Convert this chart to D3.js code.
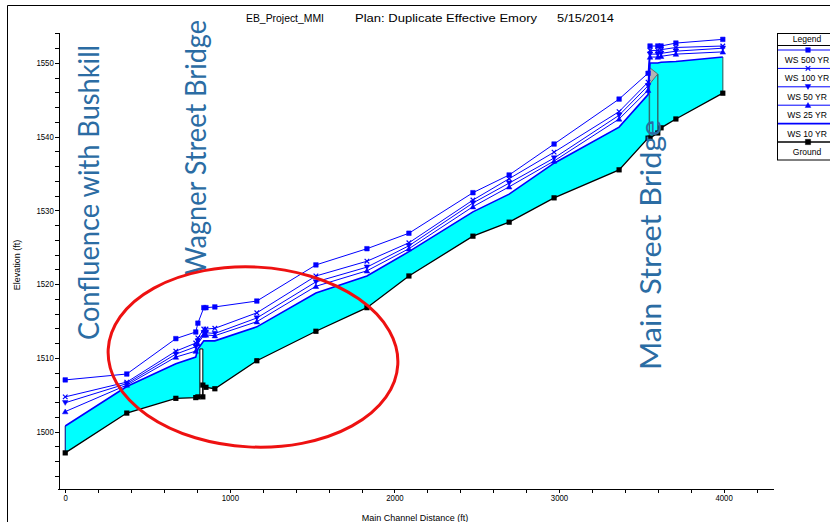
<!DOCTYPE html>
<html>
<head>
<meta charset="utf-8">
<script src="https://cdn.jsdelivr.net/npm/d3@7"></script>
<style>
  body { margin: 0; background: #fff; }
  svg { display: block; }
  .axis text { font-family: 'Liberation Sans', Arial, sans-serif; font-size: 9px; fill: #000; }
  .axis path, .axis line { stroke: #000; stroke-width: 1; shape-rendering: crispEdges; }
  .lbl { font-family: 'Liberation Sans', Arial, sans-serif; font-size: 9px; fill: #000; }
  .lg { font-family: 'Liberation Sans', Arial, sans-serif; font-size: 9.5px; fill: #000; }
  .title { font-family: 'Liberation Sans', Arial, sans-serif; font-size: 11px; fill: #000; }
  .note { font-family: Lato, 'Open Sans', sans-serif; font-size: 29px; fill: #2b6ca3; }
</style>
</head>
<body>
<div id="chart"></div>
<script>
// cross sections (main channel distance, ft)
var stations = [0, 374, 672, 793, 806, 842, 855, 909, 1164, 1523, 1833, 2088, 2477, 2697, 2970, 3365, 3541, 3553, 3600, 3620, 3710, 3995];

// water surface elevations (ft)
var ws500 = [1507.0, 1507.8, 1512.6, 1513.5, 1514.7, 1516.8, 1516.8, 1516.9, 1517.7, 1522.6, 1524.8, 1526.9, 1532.4, 1534.8, 1539.0, 1545.1, 1548.6, 1552.3, 1552.3, 1552.3, 1552.7, 1553.2];
var ws100 = [1504.7, 1506.7, 1510.9, 1512.0, 1512.7, 1513.9, 1513.9, 1514.0, 1516.1, 1521.1, 1523.1, 1525.6, 1531.4, 1534.3, 1537.9, 1543.4, 1547.4, 1551.7, 1551.7, 1551.8, 1552.1, 1552.3];
var ws50 = [1503.9, 1506.5, 1510.5, 1511.5, 1512.3, 1513.4, 1513.4, 1513.3, 1515.4, 1520.3, 1522.3, 1525.2, 1531.0, 1533.7, 1537.1, 1542.9, 1546.9, 1551.2, 1551.2, 1551.3, 1551.6, 1552.0];
var ws25 = [1502.7, 1506.3, 1510.1, 1510.9, 1511.9, 1513.1, 1513.1, 1513.0, 1514.9, 1519.7, 1521.8, 1524.8, 1530.5, 1533.2, 1536.7, 1542.4, 1546.3, 1550.8, 1550.8, 1550.9, 1551.2, 1551.5];
var ws10 = [1500.75, 1506.1, 1509.2, 1510.1, 1511.2, 1512.3, 1512.3, 1512.3, 1514.2, 1518.8, 1521.1, 1524.4, 1529.8, 1532.2, 1536.4, 1541.3, 1545.7, 1550.0, 1550.0, 1550.1, 1550.2, 1550.8];

// ground profile
var groundSta = [0, 374, 672, 793, 806, 836, 836, 855, 909, 1164, 1523, 1833, 2088, 2477, 2697, 2970, 3365, 3541, 3553, 3600, 3620, 3710, 3995];
var groundElev = [1497.1, 1502.5, 1504.5, 1504.6, 1504.7, 1504.7, 1506.3, 1506.0, 1505.8, 1509.6, 1513.6, 1516.8, 1521.1, 1526.5, 1528.4, 1531.7, 1535.5, 1539.8, 1539.8, 1540.5, 1541.2, 1542.4, 1545.9];

// bridges
var wagnerSta = [818, 836];
var wagnerDeck = 1511.2;
var mainSta = [3549, 3600];
var mainDeck = [1549.4, 1548.5, 1547.1]; // top, low chord up, low chord down

var xTicks = d3.range(0, 4300, 200);
var yTicks = d3.range(1494, 1555, 2);

var legendNames = ["WS 500 YR", "WS 100 YR", "WS 50 YR", "WS 25 YR", "WS 10 YR", "Ground"];

var W = 830, H = 522;
var svg = d3.select("#chart").append("svg").attr("width", W).attr("height", H);

var x = d3.scaleLinear().domain([-50, 4300]).range([57, 773]);
var y = d3.scaleLinear().domain([1492.2, 1554.2]).range([489, 32]);

// frame
svg.append("path").attr("d", "M7.5,522V5.5H830").attr("fill", "none").attr("stroke", "#000").attr("stroke-width", 1);

// title
function title(txt, tx, len) {
  svg.append("text").attr("class", "title").attr("x", tx).attr("y", 22)
    .attr("textLength", len).attr("lengthAdjust", "spacingAndGlyphs").text(txt);
}
title("EB_Project_MMI", 246, 78);
title("Plan: Duplicate Effective Emory", 355, 182);
title("5/15/2014", 557, 57);

// axes
var xAxis = svg.append("g").attr("class", "axis")
  .attr("transform", "translate(0,489)")
  .call(d3.axisBottom(x).tickValues(xTicks).tickSize(4).tickPadding(2).tickSizeOuter(0)
    .tickFormat(function (d) { return d % 1000 === 0 ? d : ""; }));
xAxis.selectAll("text").attr("transform", "scale(0.87,1)");

var yAxis = svg.append("g").attr("class", "axis")
  .attr("transform", "translate(59,0)")
  .call(d3.axisLeft(y).tickValues(yTicks).tickSize(4).tickPadding(2).tickSizeOuter(0)
    .tickFormat(function (d) { return d % 10 === 0 ? d : ""; }));
yAxis.selectAll("text").attr("transform", "scale(0.87,1)");

svg.append("text").attr("class", "lbl").attr("x", 415).attr("y", 521).attr("text-anchor", "middle").text("Main Channel Distance (ft)");
svg.append("text").attr("class", "lbl").attr("text-anchor", "middle")
  .attr("transform", "translate(20,265) rotate(-90)").text("Elevation (ft)");

// water fill between WS 10 YR and ground
var fillPts = stations.map(function (s, i) { return [x(s), y(ws10[i])]; });
for (var i = groundSta.length - 1; i >= 0; i--) fillPts.push([x(groundSta[i]), y(groundElev[i])]);
svg.append("path").attr("d", "M" + fillPts.join("L") + "Z").attr("fill", "#00ffff");

// end lines of the water
svg.append("line").attr("x1", x(0)).attr("x2", x(0)).attr("y1", y(ws10[0])).attr("y2", y(groundElev[0]))
  .attr("stroke", "#000080").attr("stroke-width", 1);
var last = stations.length - 1;
svg.append("line").attr("x1", x(stations[last])).attr("x2", x(stations[last]))
  .attr("y1", y(ws10[last])).attr("y2", y(groundElev[groundElev.length - 1]))
  .attr("stroke", "#2f6f6f").attr("stroke-width", 1.2);

// Wagner Street bridge deck
svg.append("path")
  .attr("d", "M" + [[x(wagnerSta[0]), y(wagnerDeck)], [x(wagnerSta[1]), y(wagnerDeck)],
    [x(wagnerSta[1]), y(1504.7)], [x(wagnerSta[0]), y(1504.7)]].join("L") + "Z")
  .attr("fill", "#fff").attr("stroke", "#000").attr("stroke-width", 1);

// Main Street bridge
svg.append("line").attr("x1", x(mainSta[0])).attr("x2", x(mainSta[0]))
  .attr("y1", y(mainDeck[0])).attr("y2", y(1539.8)).attr("stroke", "#2f6f6f").attr("stroke-width", 1.5);
svg.append("line").attr("x1", x(mainSta[1])).attr("x2", x(mainSta[1]))
  .attr("y1", y(mainDeck[1])).attr("y2", y(1540.5)).attr("stroke", "#2f6f6f").attr("stroke-width", 1.5);
svg.append("path")
  .attr("d", "M" + [[x(mainSta[0]), y(mainDeck[0])], [x(mainSta[1]), y(mainDeck[1])], [x(mainSta[0]), y(mainDeck[2])]].join("L") + "Z")
  .attr("fill", "#b4b4b4").attr("stroke", "#555").attr("stroke-width", 0.8);

// marker shapes
var shapes = {
  square: "M-2.3,-2.3h4.6v4.6h-4.6z",
  x: "M-2.3,-2.3L2.3,2.3M-2.3,2.3L2.3,-2.3",
  down: "M-2.8,-2.2L2.8,-2.2L0,2.6Z",
  up: "M-2.8,2.2L2.8,2.2L0,-2.6Z"
};

var series = [
  { name: legendNames[0], vals: ws500, shape: "square", color: "#0000ff", w: 1 },
  { name: legendNames[1], vals: ws100, shape: "x", color: "#0000ff", w: 1 },
  { name: legendNames[2], vals: ws50, shape: "down", color: "#0000ff", w: 1 },
  { name: legendNames[3], vals: ws25, shape: "up", color: "#0000ff", w: 1 },
  { name: legendNames[4], vals: ws10, shape: null, color: "#0000ff", w: 1.6 }
];

var line = d3.line().x(function (d) { return x(d[0]); }).y(function (d) { return y(d[1]); });

series.forEach(function (s) {
  var pts = stations.map(function (st, i) { return [st, s.vals[i]]; });
  svg.append("path").attr("d", line(pts)).attr("fill", "none").attr("stroke", s.color).attr("stroke-width", s.w);
  if (s.shape) {
    svg.selectAll(null).data(pts).enter().append("path")
      .attr("transform", function (d) { return "translate(" + x(d[0]) + "," + y(d[1]) + ")"; })
      .attr("d", shapes[s.shape])
      .attr("fill", s.shape === "x" ? "none" : s.color)
      .attr("stroke", s.color).attr("stroke-width", s.shape === "x" ? 1.2 : 0.5);
  }
});

// ground
var gPts = groundSta.map(function (s, i) { return [s, groundElev[i]]; });
svg.append("path").attr("d", line(gPts)).attr("fill", "none").attr("stroke", "#000").attr("stroke-width", 1.3);
svg.selectAll(null).data(gPts).enter().append("path")
  .attr("transform", function (d) { return "translate(" + x(d[0]) + "," + y(d[1]) + ")"; })
  .attr("d", "M-2.6,-2.6h5.2v5.2h-5.2z").attr("fill", "#000");

// annotations
function note(txt, bx, by, len) {
  svg.append("text").attr("class", "note")
    .attr("transform", "translate(" + bx + "," + by + ") rotate(-90)")
    .attr("textLength", len).attr("lengthAdjust", "spacingAndGlyphs")
    .text(txt);
}
note("Confluence with Bushkill", 99, 340, 295);
note("Wagner Street Bridge", 206, 275, 255);
note("Main Street Bridge", 661, 370, 250);

// red ellipse
svg.append("ellipse").attr("cx", 253).attr("cy", 357).attr("rx", 145).attr("ry", 90)
  .attr("transform", "rotate(3,253,357)")
  .attr("fill", "none").attr("stroke", "#ee1111").attr("stroke-width", 3);

// legend
var lg = svg.append("g");
lg.append("rect").attr("x", 777.5).attr("y", 33.5).attr("width", 62).attr("height", 126.5)
  .attr("fill", "#fff").attr("stroke", "#000").attr("stroke-width", 1);
lg.append("text").attr("class", "lg").attr("text-anchor", "middle")
  .attr("transform", "translate(807,42) scale(0.9,1)").text("Legend");
lg.append("line").attr("x1", 777.5).attr("x2", 830).attr("y1", 45.5).attr("y2", 45.5).attr("stroke", "#000");
var lgEntries = series.concat([{ name: legendNames[5], shape: "ground", color: "#000", w: 1.3 }]);
lgEntries.forEach(function (s, i) {
  var ly = 50 + i * 18.4;
  lg.append("line").attr("x1", 778).attr("x2", 830).attr("y1", ly).attr("y2", ly)
    .attr("stroke", s.color).attr("stroke-width", s.w);
  if (s.shape) {
    lg.append("path").attr("transform", "translate(808," + ly + ")")
      .attr("d", s.shape === "ground" ? "M-2.6,-2.6h5.2v5.2h-5.2z" : shapes[s.shape])
      .attr("fill", s.shape === "x" ? "none" : s.color)
      .attr("stroke", s.color).attr("stroke-width", s.shape === "x" ? 1.2 : 0.5);
  }
  lg.append("text").attr("class", "lg").attr("text-anchor", "middle")
    .attr("transform", "translate(807," + (ly + 13) + ") scale(0.9,1)").text(s.name);
});
</script>
</body>
</html>
